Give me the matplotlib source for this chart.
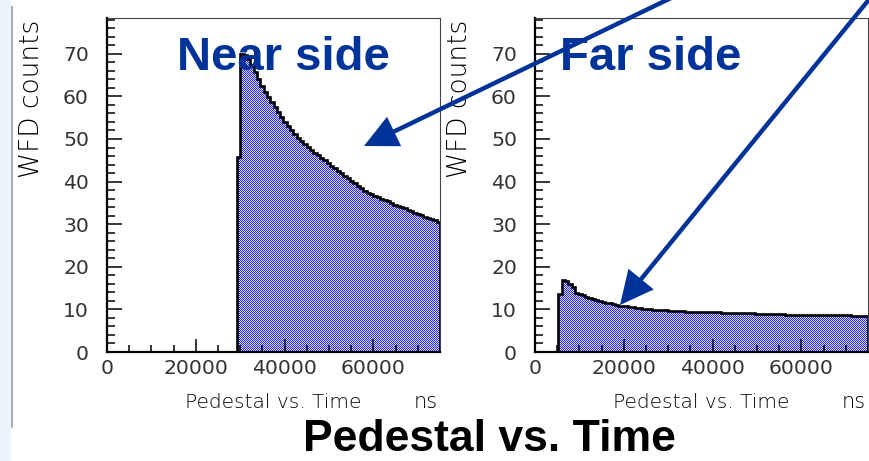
import numpy as np
import matplotlib
matplotlib.use('Agg')
import matplotlib.pyplot as plt
from matplotlib.ticker import MultipleLocator
from matplotlib.patches import FancyArrowPatch, Rectangle, ArrowStyle
from matplotlib.lines import Line2D

# histogram contents, 750 ns bins from 0 to 75000 ns
bin_width = 750
near_counts = [
    0, 0, 0, 0, 0, 0, 0, 0, 0, 0,
    0, 0, 0, 0, 0, 0, 0, 0, 0, 0,
    0, 0, 0, 0, 0, 0, 0, 0, 0, 0,
    0, 0, 0, 0, 0, 0, 0, 0, 0, 45.8,
    70.0, 69.6, 68.8, 67.3, 65.7, 64.0, 62.5, 61.1, 59.9, 58.7,
    57.5, 56.3, 55.2, 54.1, 53.1, 52.2, 51.2, 50.3, 49.5, 48.8,
    48.1, 47.5, 46.8, 46.2, 45.6, 45.0, 44.3, 43.7, 43.1, 42.6,
    42.0, 41.4, 40.8, 40.2, 39.7, 39.0, 38.4, 37.8, 37.4, 37.0,
    36.7, 36.4, 36.0, 35.7, 35.4, 35.0, 34.6, 34.3, 34.0, 33.7,
    33.4, 33.0, 32.7, 32.4, 32.1, 31.8, 31.5, 31.2, 30.9, 30.6,
]
far_counts = [
    0, 0, 0, 0, 0, 0, 0, 13.6, 16.9, 16.6,
    16.0, 15.2, 13.9, 13.7, 13.4, 13.0, 12.6, 12.4, 12.2, 12.0,
    11.8, 11.6, 11.4, 11.2, 11.1, 10.9, 10.8, 10.7, 10.6, 10.5,
    10.4, 10.3, 10.2, 10.1, 10.0, 9.95, 9.9, 9.85, 9.8, 9.75,
    9.7, 9.65, 9.6, 9.6, 9.55, 9.5, 9.5, 9.45, 9.45, 9.4,
    9.4, 9.4, 9.35, 9.35, 9.3, 9.3, 9.25, 9.25, 9.2, 9.2,
    9.2, 9.15, 9.1, 9.1, 9.05, 9.05, 9.0, 9.0, 8.95, 8.95,
    8.9, 8.9, 8.9, 8.85, 8.85, 8.8, 8.8, 8.8, 8.8, 8.75,
    8.8, 8.75, 8.75, 8.7, 8.7, 8.7, 8.7, 8.65, 8.65, 8.65,
    8.65, 8.6, 8.6, 8.6, 8.6, 8.55, 8.55, 8.5, 8.5, 8.5,
]
x_ticks = [0, 20000, 40000, 60000]
y_ticks = [0, 10, 20, 30, 40, 50, 60, 70]
titles = ['Near side', 'Far side']

W, H = 870, 461
blue = '#003399'

def fx(x):
    return x / W

def fy(y):
    return 1 - y / H

# ROOT-style dithered fill: one pixel blue, one pixel pale, checkerboard
ax_w, ax_h = 333, 334
yy, xx = np.indices((ax_h, ax_w))
checker = np.zeros((ax_h, ax_w, 3))
dark = (yy + xx) % 2 == 0
checker[dark] = [40 / 255, 40 / 255, 1.0]
checker[~dark] = [215 / 255, 215 / 255, 1.0]

fig = plt.figure(figsize=(8.7, 4.61), dpi=100)
fig.patch.set_facecolor('white')

# pale slide strip + thin rule on the left
fig.add_artist(Rectangle((0, 0), fx(11), 1, transform=fig.transFigure,
                         color='#eaf4fc', lw=0))
fig.add_artist(Line2D([fx(12), fx(12)], [fy(7), fy(427)], transform=fig.transFigure,
                      color='#999999', lw=1.2))

panels = [(near_counts, 107, 177), (far_counts, 535, 560)]
for (counts, left, title_x), title in zip(panels, titles):
    ax = fig.add_axes([fx(left), fy(352), ax_w / W, ax_h / H])
    edges = np.arange(len(counts) + 1) * bin_width
    area = ax.stairs(counts, edges, fill=True, facecolor='none', lw=0)
    im = ax.imshow(checker, extent=(0, 75000, 0, 78.4), aspect='auto',
                   interpolation='nearest', origin='lower', zorder=1)
    im.set_clip_path(area)
    ax.stairs(counts, edges, color='black', lw=1.9, zorder=2)
    ax.set_xlim(0, 75000)
    ax.set_ylim(0, 78.4)
    ax.set_xticks(x_ticks)
    ax.set_xticklabels([str(t) for t in x_ticks])
    ax.set_yticks(y_ticks)
    ax.xaxis.set_minor_locator(MultipleLocator(5000))
    ax.yaxis.set_minor_locator(MultipleLocator(2))
    ax.tick_params(which='both', direction='in', color='black', width=1.1,
                   top=False, right=False, labelsize=14.7, labelcolor='#333333')
    ax.tick_params(axis='y', which='major', length=10.5, pad=13)
    ax.tick_params(axis='y', which='minor', length=5.5)
    ax.tick_params(axis='x', which='major', length=9.5, pad=5)
    ax.tick_params(axis='x', which='minor', length=5)
    for s in ['left', 'bottom']:
        ax.spines[s].set_linewidth(1.6)
        ax.spines[s].set_color('black')
    for s in ['top', 'right']:
        ax.spines[s].set_linewidth(0.8)
        ax.spines[s].set_color('#444444')
    ax.set_zorder(1)

    fig.text(fx(left - 75), fy(98.5), 'WFD counts', rotation=90, ha='center',
             va='center', fontsize=19, color='black', fontweight='light')
    fig.text(fx(left + 166.5), fy(408), 'Pedestal vs. Time', ha='center',
             va='baseline', fontsize=14.5, color='black', fontweight='light')
    fig.text(fx(left + 331), fy(408), 'ns', ha='right', va='baseline',
             fontsize=15, color='black', fontweight='light')
    fig.text(fx(title_x), fy(70), title, ha='left', va='baseline',
             fontsize=34, fontweight='bold', color=blue, family='Liberation Sans',
             zorder=3)

fig.text(fx(489), fy(451), 'Pedestal vs. Time', ha='center', va='baseline',
         fontsize=32, fontweight='bold', color='black', family='Liberation Sans')

# arrows pointing at the two histograms
head = ArrowStyle('-|>', head_length=0.94, head_width=0.46)
for start, tip in [((700, -16), (364, 146)), ((893, -30), (620, 305))]:
    arr = FancyArrowPatch((fx(start[0]), fy(start[1])), (fx(tip[0]), fy(tip[1])),
                          transform=fig.transFigure, arrowstyle=head,
                          mutation_scale=20, lw=3.2, color=blue,
                          shrinkA=0, shrinkB=0, joinstyle='miter', zorder=5)
    fig.add_artist(arr)

fig.savefig('out.png', dpi=100)
